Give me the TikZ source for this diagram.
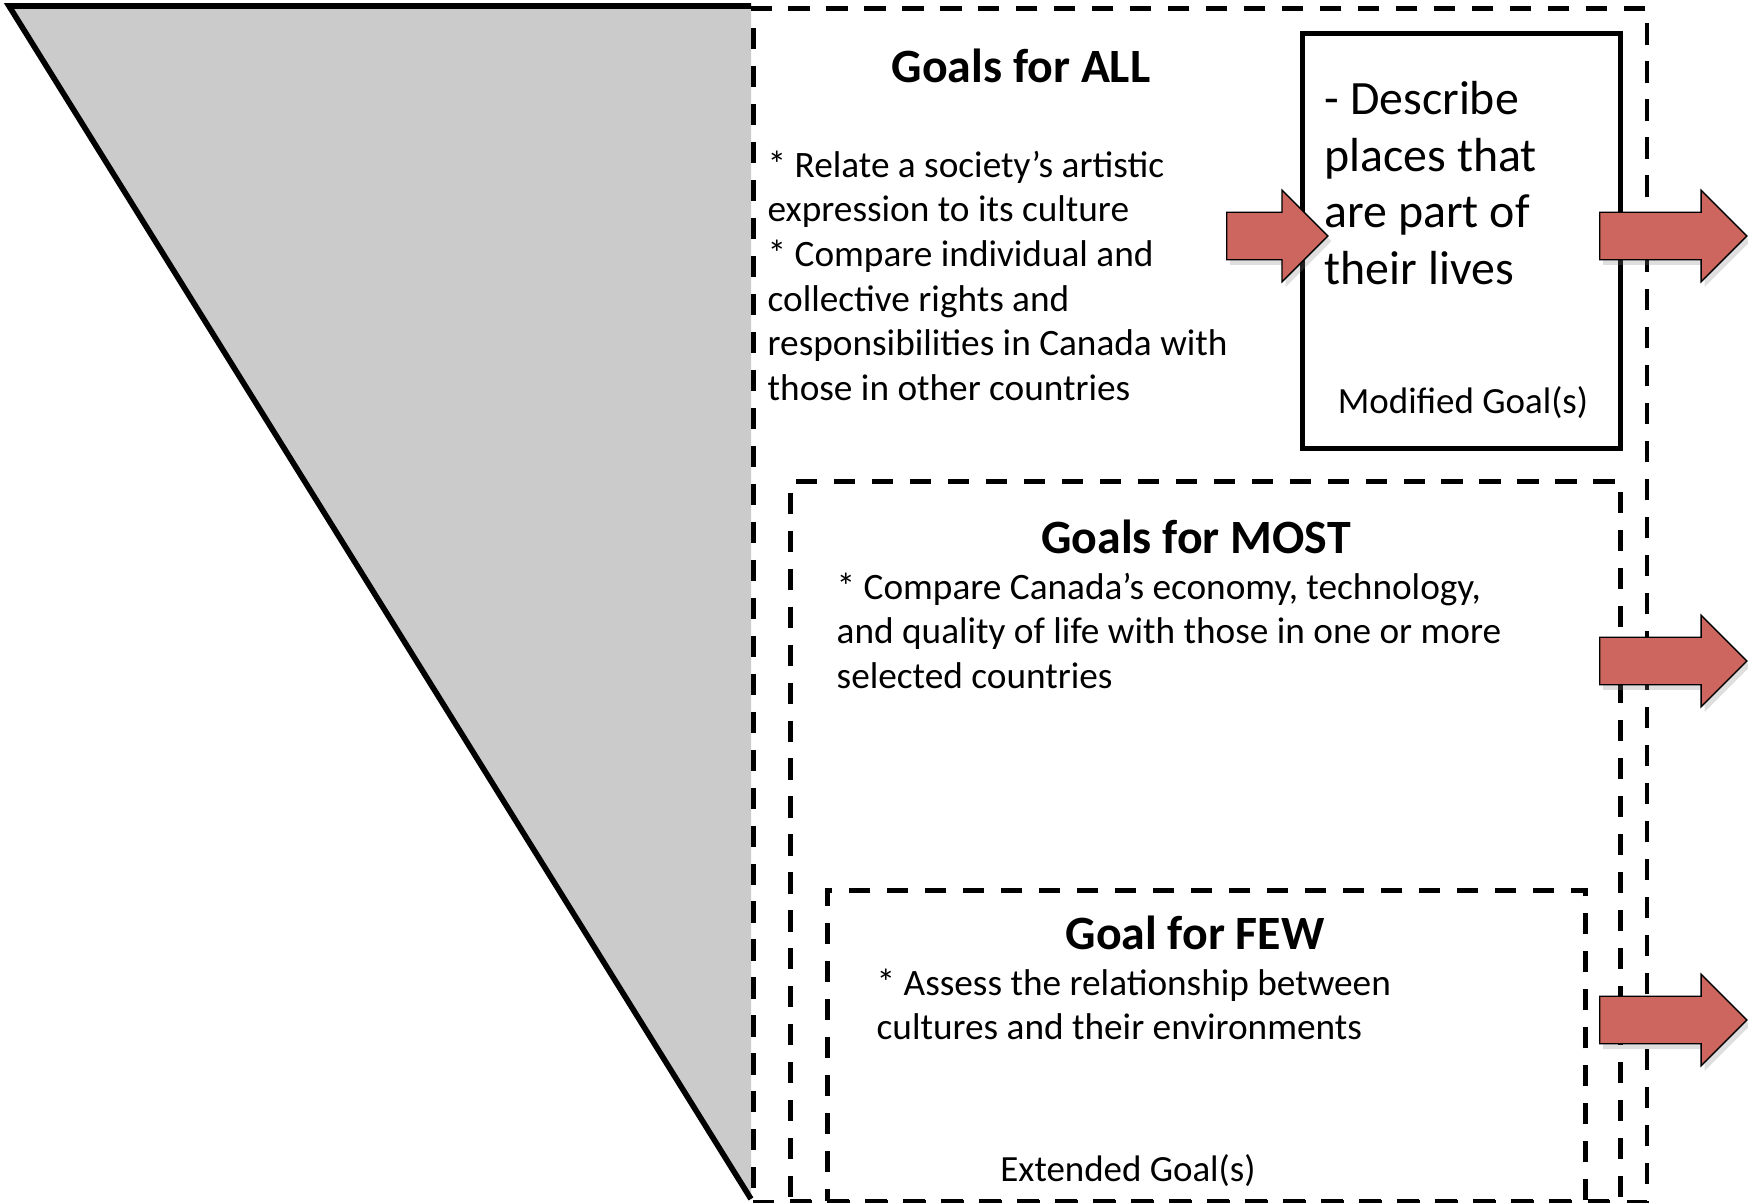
\documentclass[tikz,border=0pt]{standalone}
\usepackage{fontspec}
\setmainfont{Carlito}
\usetikzlibrary{shapes.arrows, shadows}

\definecolor{arrowred}{RGB}{205,102,95}
\definecolor{funnelgray}{RGB}{203,203,203}

\tikzset{
    dashbox/.style={draw, line width=1.3pt, dash pattern=on 6pt off 4.8pt, inner sep=0pt, anchor=north west},
    solidbox/.style={draw, line width=1.4pt, inner sep=0pt, anchor=north west},
    goalhead/.style={font=\fontsize{13.6}{16}\selectfont\bfseries, inner sep=0pt, anchor=base},
    goaltext/.style={font=\fontsize{10.6}{12.7}\selectfont, align=left, inner sep=0pt, anchor=north west},
    goalnote/.style={font=\fontsize{10.5}{12.7}\selectfont, inner sep=0pt, anchor=base},
    bigtext/.style={font=\fontsize{13.6}{16.05}\selectfont, align=left, inner sep=0pt, anchor=north west},
    blockarrow/.style={single arrow, draw, line width=0.4pt, fill=arrowred, anchor=tail,
        inner xsep=0pt, inner ysep=0.23cm, minimum width=0.9cm, single arrow head extend=0.22cm,
        drop shadow={shadow xshift=1pt, shadow yshift=-1.5pt, opacity=0.25}}
}

\begin{document}
\begin{tikzpicture}[x=0.01cm, y=-0.01cm]
    \useasboundingbox (0,0) rectangle (1748,1203);
    % Funnel
    \fill[funnelgray] (9,6) -- (751,6) -- (751,1199) -- cycle;
    \draw[line width=1.6pt, line join=miter] (751,6) -- (9,6) -- (751,1199);
    % Goal boxes
    \node[dashbox, minimum width=8.93cm, minimum height=11.93cm] (allbox) at (751,6) {};
    \node[dashbox, minimum width=8.30cm, minimum height=7.20cm] (mostbox) at (788,479) {};
    \node[dashbox, minimum width=7.58cm, minimum height=3.11cm] (fewbox) at (825,888) {};
    \node[solidbox, fill=white, minimum width=3.18cm, minimum height=4.15cm] (modbox) at (1300,31) {};
    % Goals for ALL
    \node[goalhead] (allhead) at (1021,82) {Goals for ALL};
    \node[goaltext] (alltext) at (767,150) {* Relate a society’s artistic\\expression to its culture\\* Compare individual and\\collective rights and\\responsibilities in Canada with\\those in other countries};
    % Modified goal
    \node[bigtext] (modtext) at (1324,81) {- Describe\\places that\\are part of\\their lives};
    \node[goalnote] (modnote) at (1463,413) {Modified Goal(s)};
    % Goals for MOST
    \node[goalhead] (mosthead) at (1196,553) {Goals for MOST};
    \node[goaltext] (mosttext) at (836,572) {* Compare Canada’s economy, technology,\\and quality of life with those in one or more\\selected countries};
    % Goal for FEW
    \node[goalhead] (fewhead) at (1195,949) {Goal for FEW};
    \node[goaltext] (fewtext) at (876,968) {* Assess the relationship between\\cultures and their environments};
    \node[goalnote] (fewnote) at (1128,1181) {Extended Goal(s)};
    % Arrows
    \node[blockarrow, minimum height=1.01cm] (inarrow) at (1226,236) {};
    \foreach \y/\n in {236/1, 661/2, 1020/3}
        \node[blockarrow, minimum height=1.47cm] (out\n) at (1599,\y) {};
\end{tikzpicture}
\end{document}
